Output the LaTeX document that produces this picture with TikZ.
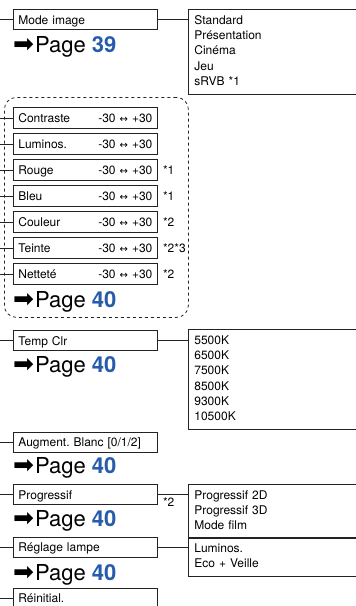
\documentclass[tikz,border=0pt]{standalone}
\usepackage{fontspec}
\setmainfont{TeX Gyre Heros}
\newfontfamily\symfont{DejaVu Sans}
\usetikzlibrary{positioning}

\definecolor{pageblue}{RGB}{38,92,170}
\definecolor{ink}{RGB}{35,35,35}

% "see page" line and the slider range
\newcommand{\seepage}[1]{{\symfont\fontsize{25}{25}\selectfont ➡}\hspace{1pt}Page \textbf{\color{pageblue}#1}}
\newcommand{\range}{-30 {\symfont\fontsize{10}{10}\selectfont ↔} +30}

\begin{document}
\frenchspacing
\begin{tikzpicture}[
    x=1pt, y=-1pt,
    menu/.style={
        rectangle, draw=ink, line width=0.8pt,
        anchor=west, text width=134pt, align=left,
        inner xsep=5pt, inner ysep=0pt,
        text height=10pt, text depth=0.8pt,
        minimum height=20pt,
        font=\fontsize{12}{14}\selectfont
    },
    slider/.style={
        menu, minimum height=21pt
    },
    options/.style={
        rectangle, draw=ink, line width=0.8pt,
        anchor=north west, text width=170pt, align=left,
        inner xsep=6pt, inner ysep=4pt,
        execute at begin node=\strut, execute at end node=\strut,
        font=\fontsize{12}{15.3}\selectfont
    },
    page/.style={
        anchor=base west, inner sep=0pt,
        font=\fontsize{22}{24}\selectfont
    },
    note/.style={
        inner sep=0pt, font=\fontsize{12}{14}\selectfont
    },
    link/.style={
        draw=ink, line width=1pt
    },
    group/.style={
        rectangle, draw=ink, dashed, line width=0.8pt,
        rounded corners=12pt, anchor=north west
    }
]
\useasboundingbox (0,0) rectangle (356,606);
\coordinate (edge) at (0,0);

% Mode image
\node[menu] (mode) at (13,19.5) {Mode image};
\node[options] (modeopt) at (188,9) {Standard\\Présentation\\Cinéma\\Jeu\\sRVB *1};
\node[page] (page39) at (13,52) {\seepage{39}};

% Picture sliders
\node[group, minimum width=184pt, minimum height=220pt] (sliders) at (4,97) {};
\node[slider] (contr) at (13,118) {Contraste\hfill\range};
\node[slider] (lumin) at (13,144) {Luminos.\hfill\range};
\node[slider] (rouge) at (13,170) {Rouge\hfill\range};
\node[slider] (bleu) at (13,196) {Bleu\hfill\range};
\node[slider] (coul) at (13,222) {Couleur\hfill\range};
\node[slider] (teinte) at (13,248) {Teinte\hfill\range};
\node[slider] (nett) at (13,274) {Netteté\hfill\range};
\node[note, right=5pt of rouge] {*1};
\node[note, right=5pt of bleu] {*1};
\node[note, right=5pt of coul] {*2};
\node[note, right=5pt of teinte] {*2*3};
\node[note, right=5pt of nett] {*2};
\node[page] (page40a) at (13,307) {\seepage{40}};

% Temp Clr
\node[menu] (temp) at (13,340.5) {Temp Clr};
\node[options] (tempopt) at (188,329) {5500K\\6500K\\7500K\\8500K\\9300K\\10500K};
\node[page] (page40b) at (13,372) {\seepage{40}};

% Augment. Blanc
\node[menu] (blanc) at (13,442) {Augment. Blanc [0/1/2]};
\node[page] (page40c) at (13,473) {\seepage{40}};

% Progressif
\node[menu] (prog) at (13,494.5) {Progressif};
\node[options] (progopt) at (188,484) {Progressif 2D\\Progressif 3D\\Mode film};
\node[note, below right=3.5pt and 5pt of prog.east, anchor=north west] {*2};
\node[page] (page40d) at (13,526) {\seepage{40}};

% Reglage lampe
\node[menu] (lampe) at (13,547) {Réglage lampe};
\node[options] (lampeopt) at (188,537) {Luminos.\\Eco + Veille};
\node[page] (page40e) at (13,580) {\seepage{40}};

% Reinitial.
\node[menu] (reinit) at (13,598) {Réinitial.};

% Stubs to the left edge
\foreach \n in {mode,contr,lumin,rouge,bleu,coul,teinte,nett,temp,blanc,prog,lampe,reinit}
    \draw[link] (\n.west) -- (\n.west -| edge);

% Links to the option lists
\draw[link] (mode.east) -- (mode.east -| modeopt.west);
\draw[link] (temp.east) -- (temp.east -| tempopt.west);
\draw[link] (prog.east) -- (prog.east -| progopt.west);
\draw[link] (lampe.east) -- (lampe.east -| lampeopt.west);

\end{tikzpicture}
\end{document}
